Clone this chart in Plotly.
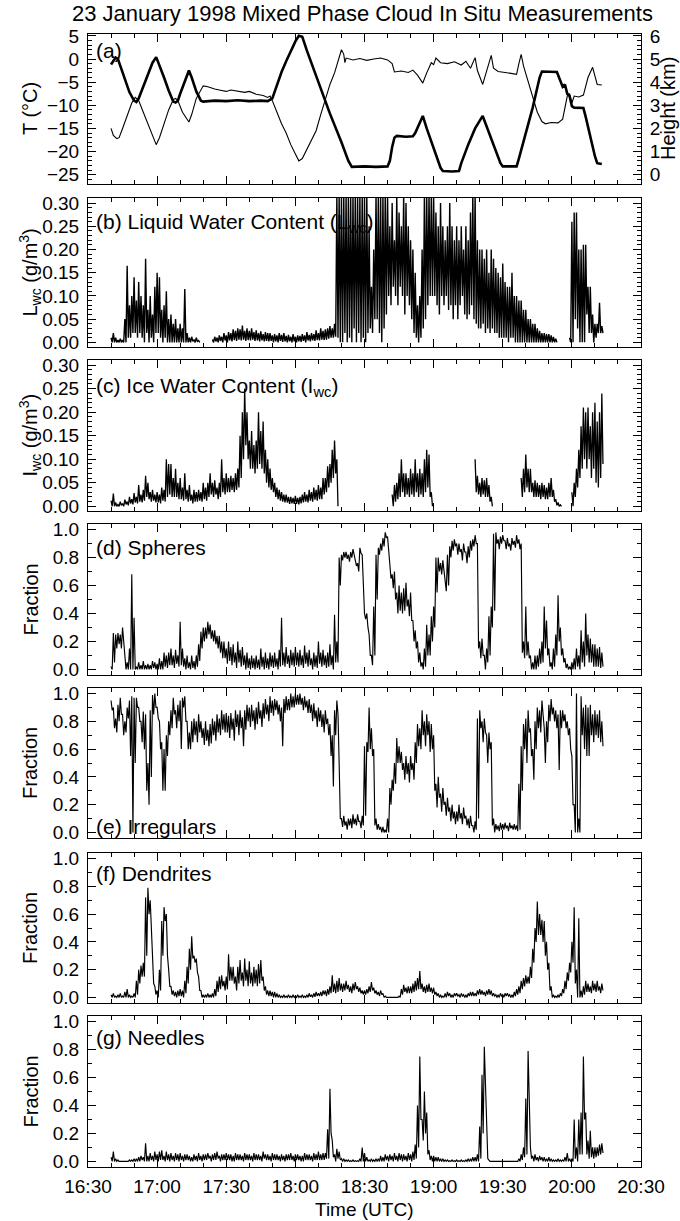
import plotly.graph_objects as go

TITLE = "23 January 1998 Mixed Phase Cloud In Situ Measurements"
X_TICK_MIN = [0, 30, 60, 90, 120, 150, 180, 210, 240]
X_TICK_TEXT = ["16:30", "17:00", "17:30", "18:00", "18:30", "19:00", "19:30", "20:00", "20:30"]
# one reading per minute (minutes after 16:30, 16:40 .. 20:13); for each minute the
# highest (HI) and lowest (LO) value that the dense trace reaches in that minute
SAMPLE_MIN = list(range(10, 224))

# (a) temperature (thick) breakpoints: minutes after 16:30, deg C
T_MIN = [10, 11, 12, 13, 14, 16, 18, 20, 21, 22, 24, 26, 28, 29.6, 31, 33, 35, 37, 38, 39,
         40, 42, 43.8, 45, 47, 49, 50, 55, 60, 65, 70, 75, 78, 80, 82, 84, 86, 88, 90, 91.5,
         93, 95, 100, 105, 110, 113, 114.5, 120, 125, 130, 131, 132, 133, 134, 138, 141, 142, 145.3, 147, 150,
         153, 154, 158, 161, 162, 165, 168, 171.3, 173, 176, 179, 180, 186, 187, 190, 193, 196, 197, 203.5, 205,
         206, 207, 208, 209, 210, 211, 215, 216, 218, 220, 221, 223]
T_C = [-1.2, -0.5, 0.3, 0.0, -1.5, -4.5, -7.2, -9.0, -9.3, -8.5, -5.8, -3.3, -0.8, 0.4, -1.3, -4.0, -6.8, -9.2, -9.4, -9.0,
       -7.5, -4.8, -2.5, -4.0, -7.0, -9.0, -9.2, -9.0, -9.1, -8.9, -9.1, -9.0, -9.1, -8.5, -5.5, -2.8, -0.5, 1.8, 3.8, 5.0,
       4.8, 1.8, -5.0, -11.8, -18.0, -22.0, -23.3, -23.2, -23.3, -23.2, -22.0, -19.0, -17.0, -16.6, -16.8, -16.7, -16.0, -12.3, -15.0, -19.5,
       -23.5, -24.2, -24.3, -24.2, -22.5, -18.5, -15.0, -12.3, -14.5, -18.5, -22.5, -23.2, -23.2, -21.5, -16.0, -10.5, -4.0, -2.7, -2.8, -4.5,
       -6.0, -5.5, -7.5, -8.0, -10.2, -10.5, -10.6, -12.5, -17.0, -21.0, -22.5, -22.7]

# (a) aircraft height (thin) breakpoints: minutes after 16:30, km
H_MIN = [10, 11, 12.5, 13.5, 15, 17, 19, 20.5, 22, 24, 26, 28, 29.6, 31, 33, 35, 37, 38, 39, 41,
         43.8, 45, 47, 49, 50, 52, 55, 58, 60, 62, 65, 68, 70, 73, 76, 78, 79, 80, 82, 84,
         86, 88, 90, 91.5, 93, 95, 97, 99, 101, 103, 105, 107, 109, 110, 111, 111.5, 112, 115, 118, 121,
         124, 127, 130, 132, 133, 136, 139, 141, 143, 145.3, 147, 149, 150, 151, 153, 156, 159, 162, 164, 166,
         168, 169, 171.3, 173, 175, 176, 178, 181, 184, 186, 187, 188, 189, 191, 193, 195, 197, 198.5, 201, 204,
         206, 207, 208, 209, 210, 211, 213, 215, 217, 219, 220, 221, 223]
H_KM = [2.0, 1.7, 1.56, 1.6, 2.0, 2.6, 3.1, 3.34, 3.2, 2.7, 2.2, 1.7, 1.3, 1.6, 2.2, 2.8, 3.24, 3.3, 3.2, 2.7,
        2.28, 2.6, 3.3, 3.7, 3.84, 3.8, 3.7, 3.64, 3.6, 3.66, 3.6, 3.56, 3.6, 3.48, 3.42, 3.34, 3.4, 3.2, 2.7, 2.2,
        1.8, 1.3, 0.9, 0.6, 0.7, 1.1, 1.44, 1.9, 2.6, 3.3, 3.9, 4.4, 5.0, 5.4, 5.2, 4.84, 5.04, 4.96, 5.02, 4.94,
        5.0, 5.04, 4.96, 4.8, 4.44, 4.48, 4.42, 4.52, 4.3, 3.96, 4.4, 4.84, 4.76, 5.04, 4.84, 4.8, 4.88, 4.74, 4.9, 4.6,
        5.06, 4.5, 3.9, 4.5, 5.16, 4.6, 4.46, 4.42, 4.38, 4.34, 4.8, 5.2, 4.7, 4.0, 3.3, 2.7, 2.3, 2.2, 2.26, 2.24,
        2.4, 2.9, 3.4, 3.5, 3.1, 3.4, 3.36, 3.44, 4.2, 4.64, 4.3, 3.9, 3.88]

# (b) liquid water content, g/m3
LWC_HI = [0.01, 0.02, 0.01, 0.005, 0.008, 0.005, 0.05, 0.165, 0.08, 0.1,
          0.14, 0.09, 0.13, 0.1, 0.08, 0.18, 0.07, 0.1, 0.06, 0.12,
          0.15, 0.14, 0.07, 0.08, 0.11, 0.05, 0.06, 0.04, 0.05, 0.03,
          0.04, 0.03, 0.115, 0.02, 0.01, 0.012, 0.006, 0.01, 0.004, None,
          None, None, None, None, 0.006, 0.012, 0.01, 0.015, 0.012, 0.02,
          0.015, 0.022, 0.02, 0.028, 0.025, 0.03, 0.028, 0.036, 0.025, 0.03,
          0.025, 0.03, 0.022, 0.026, 0.02, 0.024, 0.018, 0.022, 0.02, 0.02,
          0.015, 0.018, 0.015, 0.02, 0.016, 0.02, 0.014, 0.016, 0.012, 0.018,
          0.012, 0.015, 0.014, 0.018, 0.015, 0.022, 0.016, 0.02, 0.018, 0.026,
          0.02, 0.03, 0.025, 0.028, 0.03, 0.035, 0.03, 0.04, 0.32, 0.32,
          0.32, 0.32, 0.32, 0.32, 0.32, 0.32, 0.32, 0.32, 0.32, 0.32,
          0.32, 0.32, 0.25, 0.12, 0.2, 0.32, 0.32, 0.32, 0.32, 0.32,
          0.32, 0.25, 0.3, 0.22, 0.32, 0.28, 0.25, 0.32, 0.3, 0.25,
          0.22, 0.2, 0.15, 0.08, 0.1, 0.2, 0.32, 0.32, 0.32, 0.32,
          0.32, 0.28, 0.25, 0.3, 0.25, 0.22, 0.25, 0.3, 0.25, 0.22,
          0.25, 0.22, 0.25, 0.2, 0.25, 0.22, 0.28, 0.32, 0.32, 0.22,
          0.2, 0.2, 0.18, 0.2, 0.15, 0.2, 0.18, 0.16, 0.15, 0.14,
          0.17, 0.13, 0.12, 0.12, 0.15, 0.1, 0.1, 0.09, 0.09, 0.07,
          0.07, 0.05, 0.05, 0.04, 0.04, 0.03, 0.025, 0.02, 0.02, 0.018,
          0.018, 0.015, 0.012, 0.008, None, None, None, None, None, 0.01,
          0.26, 0.28, 0.28, 0.2, 0.2, 0.21, 0.21, 0.12, 0.12, 0.06,
          0.04, 0.04, 0.085, 0.035]
LWC_LO = [0.0, 0.0, 0.0, 0.0, 0.0, 0.0, 0.0, 0.01, 0.01, 0.02,
          0.02, 0.01, 0.02, 0.01, 0.0, 0.02, 0.0, 0.01, 0.0, 0.02,
          0.02, 0.01, 0.0, 0.01, 0.0, 0.0, 0.0, 0.0, 0.0, 0.0,
          0.0, 0.0, 0.0, 0.0, 0.0, 0.002, 0.0, 0.002, 0.0, None,
          None, None, None, None, 0.0, 0.002, 0.0, 0.003, 0.0, 0.004,
          0.0, 0.004, 0.002, 0.005, 0.003, 0.006, 0.004, 0.006, 0.003, 0.005,
          0.004, 0.006, 0.003, 0.004, 0.002, 0.004, 0.002, 0.003, 0.002, 0.003,
          0.0, 0.002, 0.0, 0.003, 0.001, 0.002, 0.0, 0.002, 0.0, 0.002,
          0.0, 0.002, 0.001, 0.003, 0.0, 0.004, 0.002, 0.004, 0.003, 0.005,
          0.004, 0.006, 0.005, 0.006, 0.008, 0.01, 0.01, 0.012, 0.01, 0.0,
          0.0, 0.02, 0.0, 0.01, 0.0, 0.03, 0.0, 0.02, 0.0, 0.01,
          0.0, 0.02, 0.03, 0.02, 0.05, 0.05, 0.02, 0.0, 0.03, 0.06,
          0.1, 0.08, 0.12, 0.1, 0.08, 0.12, 0.1, 0.06, 0.1, 0.08,
          0.05, 0.02, 0.01, 0.0, 0.01, 0.03, 0.05, 0.08, 0.1, 0.1,
          0.1, 0.08, 0.06, 0.1, 0.08, 0.1, 0.07, 0.08, 0.05, 0.08,
          0.05, 0.08, 0.1, 0.06, 0.05, 0.06, 0.08, 0.05, 0.04, 0.03,
          0.03, 0.04, 0.02, 0.03, 0.02, 0.03, 0.02, 0.02, 0.01, 0.01,
          0.01, 0.01, 0.0, 0.01, 0.01, 0.0, 0.0, 0.0, 0.0, 0.0,
          0.0, 0.0, 0.0, 0.0, 0.0, 0.0, 0.0, 0.0, 0.0, 0.0,
          0.0, 0.0, 0.0, 0.0, None, None, None, None, None, 0.0,
          0.0, 0.05, 0.03, 0.0, 0.0, 0.0, 0.06, 0.02, 0.02, 0.0,
          0.01, 0.02, 0.02, 0.02]

# (c) ice water content, g/m3
IWC_HI = [0.012, 0.027, 0.008, 0.004, 0.01, 0.006, 0.014, 0.01, 0.02, 0.015,
          0.028, 0.02, 0.045, 0.025, 0.035, 0.065, 0.05, 0.03, 0.035, 0.025,
          0.03, 0.025, 0.04, 0.035, 0.1, 0.09, 0.09, 0.06, 0.08, 0.05,
          0.06, 0.04, 0.07, 0.035, 0.045, 0.025, 0.035, 0.03, 0.035, 0.03,
          0.05, 0.04, 0.05, 0.07, 0.05, 0.055, 0.04, 0.05, 0.1, 0.06,
          0.07, 0.06, 0.065, 0.06, 0.07, 0.08, 0.15, 0.2, 0.25, 0.2,
          0.14, 0.16, 0.13, 0.14, 0.2, 0.16, 0.18, 0.12, 0.1, 0.08,
          0.06, 0.05, 0.04, 0.035, 0.03, 0.025, 0.025, 0.02, 0.02, 0.018,
          0.022, 0.018, 0.02, 0.025, 0.03, 0.025, 0.035, 0.03, 0.04, 0.035,
          0.045, 0.04, 0.06, 0.06, 0.085, 0.09, 0.12, 0.14, 0.1, None,
          None, None, None, None, None, None, None, None, None, None,
          None, None, None, None, None, None, None, None, None, None,
          None, None, 0.025, 0.045, 0.05, 0.07, 0.1, 0.07, 0.07, 0.06,
          0.08, 0.07, 0.1, 0.07, 0.08, 0.07, 0.1, 0.12, 0.11, 0.03,
          None, None, None, None, None, None, None, None, None, None,
          None, None, None, None, None, None, None, None, 0.1, 0.065,
          0.05, 0.06, 0.055, 0.06, 0.045, 0.02, None, None, None, None,
          None, None, None, None, None, None, None, None, 0.06, 0.08,
          0.11, 0.08, 0.08, 0.05, 0.055, 0.05, 0.045, 0.05, 0.045, 0.04,
          0.05, 0.06, 0.035, 0.015, 0.008, 0.003, None, None, None, None,
          0.03, 0.05, 0.08, 0.12, 0.17, 0.21, 0.2, 0.21, 0.17, 0.2,
          0.22, 0.18, 0.2, 0.24]
IWC_LO = [0.0, 0.0, 0.0, 0.0, 0.002, 0.0, 0.004, 0.002, 0.006, 0.004,
          0.008, 0.006, 0.01, 0.008, 0.012, 0.02, 0.015, 0.01, 0.012, 0.008,
          0.008, 0.006, 0.012, 0.01, 0.02, 0.025, 0.02, 0.02, 0.02, 0.015,
          0.015, 0.012, 0.015, 0.01, 0.012, 0.006, 0.01, 0.01, 0.012, 0.01,
          0.015, 0.012, 0.02, 0.025, 0.02, 0.025, 0.015, 0.02, 0.03, 0.025,
          0.03, 0.03, 0.035, 0.03, 0.035, 0.04, 0.06, 0.1, 0.13, 0.1,
          0.08, 0.08, 0.07, 0.08, 0.09, 0.08, 0.07, 0.05, 0.04, 0.035,
          0.03, 0.02, 0.015, 0.012, 0.01, 0.008, 0.008, 0.005, 0.006, 0.005,
          0.005, 0.004, 0.006, 0.008, 0.01, 0.008, 0.012, 0.01, 0.014, 0.012,
          0.015, 0.015, 0.025, 0.03, 0.04, 0.05, 0.06, 0.07, 0.0, None,
          None, None, None, None, None, None, None, None, None, None,
          None, None, None, None, None, None, None, None, None, None,
          None, None, 0.0, 0.01, 0.015, 0.02, 0.03, 0.02, 0.025, 0.02,
          0.025, 0.02, 0.03, 0.02, 0.025, 0.02, 0.03, 0.04, 0.02, 0.0,
          None, None, None, None, None, None, None, None, None, None,
          None, None, None, None, None, None, None, None, 0.03, 0.025,
          0.02, 0.025, 0.02, 0.02, 0.01, 0.0, None, None, None, None,
          None, None, None, None, None, None, None, None, 0.02, 0.03,
          0.04, 0.03, 0.03, 0.02, 0.02, 0.02, 0.015, 0.02, 0.015, 0.015,
          0.02, 0.02, 0.01, 0.002, 0.0, 0.0, None, None, None, None,
          0.0, 0.02, 0.04, 0.06, 0.08, 0.1, 0.08, 0.1, 0.06, 0.08,
          0.05, 0.04, 0.06, 0.09]

# (d) spheres fraction
SPH_HI = [0.02, 0.26, 0.25, 0.26, 0.25, 0.3, 0.05, 0.05, 0.15, 0.68,
          0.37, 0.02, 0.05, 0.03, 0.06, 0.03, 0.04, 0.03, 0.06, 0.05,
          0.04, 0.08, 0.06, 0.12, 0.1, 0.12, 0.15, 0.1, 0.14, 0.1,
          0.34, 0.15, 0.08, 0.1, 0.05, 0.1, 0.06, 0.1, 0.18, 0.27,
          0.3, 0.3, 0.34, 0.32, 0.28, 0.28, 0.24, 0.24, 0.2, 0.2,
          0.15, 0.2, 0.16, 0.18, 0.12, 0.2, 0.14, 0.16, 0.1, 0.12,
          0.08, 0.1, 0.08, 0.1, 0.07, 0.15, 0.09, 0.12, 0.08, 0.12,
          0.1, 0.12, 0.08, 0.14, 0.37, 0.12, 0.16, 0.1, 0.14, 0.12,
          0.16, 0.12, 0.14, 0.1, 0.17, 0.12, 0.14, 0.08, 0.12, 0.1,
          0.2, 0.12, 0.14, 0.1, 0.12, 0.18, 0.1, 0.39, 0.2, 0.8,
          0.82, 0.84, 0.84, 0.82, 0.84, 0.86, 0.8, 0.76, 0.87, 0.82,
          0.4, 0.4, 0.25, 0.1, 0.45, 0.82, 0.87, 0.9, 0.94, 0.98,
          0.95, 0.73, 0.68, 0.7, 0.55, 0.6, 0.55, 0.58, 0.62, 0.5,
          0.55, 0.35, 0.28, 0.2, 0.12, 0.05, 0.15, 0.32, 0.25, 0.38,
          0.45, 0.8, 0.8, 0.76, 0.78, 0.65, 0.82, 0.88, 0.92, 0.93,
          0.9, 0.9, 0.86, 0.9, 0.84, 0.88, 0.92, 0.93, 0.96, 0.9,
          0.2, 0.22, 0.1, 0.15, 0.38, 0.45, 0.97, 0.98, 0.93, 0.95,
          0.96, 0.92, 0.94, 0.9, 0.94, 0.92, 0.96, 0.93, 0.9, 0.2,
          0.45, 0.2, 0.1, 0.05, 0.1, 0.1, 0.15, 0.2, 0.45, 0.35,
          0.15, 0.05, 0.15, 0.25, 0.53, 0.3, 0.15, 0.08, 0.04, 0.02,
          0.05, 0.08, 0.15, 0.1, 0.28, 0.2, 0.4, 0.25, 0.22, 0.18,
          0.18, 0.15, 0.16, 0.12]
SPH_LO = [0.0, 0.05, 0.15, 0.18, 0.15, 0.2, 0.0, 0.0, 0.0, 0.0,
          0.0, 0.0, 0.0, 0.0, 0.0, 0.0, 0.0, 0.0, 0.01, 0.0,
          0.0, 0.0, 0.0, 0.02, 0.01, 0.03, 0.03, 0.01, 0.04, 0.02,
          0.03, 0.02, 0.0, 0.01, 0.0, 0.01, 0.0, 0.02, 0.06, 0.15,
          0.2, 0.22, 0.25, 0.22, 0.2, 0.18, 0.15, 0.12, 0.08, 0.08,
          0.04, 0.06, 0.03, 0.05, 0.01, 0.05, 0.02, 0.03, 0.0, 0.01,
          0.0, 0.01, 0.0, 0.01, 0.0, 0.02, 0.0, 0.01, 0.0, 0.02,
          0.01, 0.02, 0.0, 0.02, 0.03, 0.02, 0.04, 0.01, 0.03, 0.02,
          0.03, 0.02, 0.03, 0.01, 0.04, 0.02, 0.03, 0.0, 0.02, 0.01,
          0.04, 0.02, 0.03, 0.01, 0.02, 0.03, 0.0, 0.05, 0.05, 0.6,
          0.78, 0.8, 0.79, 0.77, 0.8, 0.82, 0.74, 0.7, 0.83, 0.6,
          0.36, 0.3, 0.1, 0.03, 0.1, 0.5, 0.82, 0.85, 0.88, 0.94,
          0.85, 0.65, 0.58, 0.5, 0.4, 0.42, 0.4, 0.42, 0.45, 0.38,
          0.35, 0.2, 0.15, 0.05, 0.02, 0.0, 0.02, 0.1, 0.1, 0.2,
          0.3, 0.55, 0.7, 0.68, 0.7, 0.56, 0.6, 0.8, 0.85, 0.88,
          0.82, 0.84, 0.78, 0.84, 0.76, 0.8, 0.85, 0.88, 0.9, 0.15,
          0.08, 0.1, 0.0, 0.05, 0.1, 0.3, 0.42, 0.9, 0.86, 0.9,
          0.92, 0.86, 0.88, 0.85, 0.89, 0.87, 0.9, 0.86, 0.12, 0.08,
          0.1, 0.08, 0.0, 0.0, 0.0, 0.02, 0.04, 0.05, 0.15, 0.1,
          0.02, 0.0, 0.02, 0.1, 0.2, 0.1, 0.05, 0.01, 0.0, 0.0,
          0.0, 0.0, 0.02, 0.0, 0.05, 0.02, 0.1, 0.05, 0.05, 0.02,
          0.02, 0.02, 0.01, 0.02]

# (e) irregulars fraction
IRR_HI = [0.95, 0.9, 0.82, 0.92, 0.97, 0.85, 0.8, 0.9, 0.95, 0.98,
          0.97, 0.97, 0.9, 0.8, 0.87, 0.85, 0.5, 0.88, 0.99, 1.0,
          0.9, 0.8, 0.65, 0.6, 0.7, 0.8, 0.88, 0.97, 0.88, 0.92,
          0.95, 0.97, 0.98, 0.8, 0.72, 0.8, 0.82, 0.8, 0.85, 0.8,
          0.75, 0.8, 0.74, 0.78, 0.82, 0.8, 0.85, 0.82, 0.88, 0.85,
          0.86, 0.84, 0.86, 0.82, 0.88, 0.85, 0.88, 0.83, 0.88, 0.92,
          0.9, 0.92, 0.88, 0.9, 0.94, 0.88, 0.93, 0.96, 0.92, 0.98,
          0.95, 0.96, 0.95, 0.92, 0.9, 0.96, 0.98, 0.96, 1.0, 0.98,
          1.0, 0.99, 1.0, 0.97, 0.98, 0.95, 0.96, 0.92, 0.93, 0.88,
          0.9, 0.88, 0.85, 0.88, 0.82, 0.78, 0.7, 0.88, 0.95, 0.5,
          0.1, 0.12, 0.08, 0.1, 0.1, 0.13, 0.1, 0.13, 0.08, 0.12,
          0.62, 0.65, 0.9, 0.75, 0.6, 0.1, 0.06, 0.04, 0.04, 0.02,
          0.1, 0.32, 0.38, 0.5, 0.68, 0.62, 0.58, 0.5, 0.55, 0.5,
          0.55, 0.5, 0.65, 0.78, 0.75, 0.88, 0.8, 0.85, 0.8, 0.78,
          0.7, 0.35, 0.4, 0.28, 0.32, 0.22, 0.25, 0.18, 0.2, 0.15,
          0.15, 0.2, 0.14, 0.18, 0.12, 0.1, 0.12, 0.05, 0.08, 0.82,
          0.88, 0.8, 0.82, 0.7, 0.72, 0.65, 0.1, 0.06, 0.05, 0.07,
          0.06, 0.07, 0.05, 0.07, 0.05, 0.06, 0.05, 0.35, 0.62, 0.78,
          0.82, 0.88, 0.75, 0.6, 0.8, 0.9, 0.88, 0.95, 0.75, 0.8,
          0.92, 0.96, 0.9, 0.88, 0.85, 0.88, 0.88, 0.85, 0.8, 0.75,
          0.55, 0.2, 1.0, 0.1, 0.98, 0.9, 0.92, 0.9, 0.92, 0.85,
          0.88, 0.85, 0.88, 0.8]
IRR_LO = [0.88, 0.75, 0.72, 0.8, 0.85, 0.7, 0.72, 0.82, 0.55, 0.0,
          0.5, 0.9, 0.8, 0.65, 0.6, 0.3, 0.2, 0.4, 0.85, 0.9,
          0.82, 0.6, 0.3, 0.3, 0.55, 0.7, 0.75, 0.85, 0.75, 0.8,
          0.6, 0.9, 0.8, 0.6, 0.6, 0.65, 0.7, 0.65, 0.72, 0.68,
          0.63, 0.66, 0.62, 0.64, 0.7, 0.66, 0.72, 0.7, 0.74, 0.72,
          0.72, 0.68, 0.74, 0.66, 0.76, 0.7, 0.75, 0.62, 0.74, 0.8,
          0.76, 0.8, 0.74, 0.78, 0.82, 0.76, 0.82, 0.85, 0.8, 0.86,
          0.84, 0.88, 0.85, 0.8, 0.62, 0.86, 0.88, 0.88, 0.9, 0.9,
          0.92, 0.92, 0.92, 0.88, 0.9, 0.86, 0.86, 0.8, 0.82, 0.76,
          0.8, 0.76, 0.72, 0.78, 0.7, 0.55, 0.33, 0.7, 0.85, 0.1,
          0.04, 0.05, 0.02, 0.05, 0.03, 0.06, 0.05, 0.08, 0.03, 0.05,
          0.12, 0.58, 0.6, 0.55, 0.05, 0.02, 0.02, 0.0, 0.0, 0.0,
          0.0, 0.2, 0.3, 0.35, 0.5, 0.5, 0.45, 0.38, 0.42, 0.36,
          0.45, 0.38, 0.5, 0.62, 0.6, 0.7, 0.62, 0.7, 0.58, 0.6,
          0.3, 0.18, 0.25, 0.15, 0.2, 0.12, 0.15, 0.08, 0.1, 0.06,
          0.08, 0.1, 0.06, 0.1, 0.05, 0.03, 0.05, 0.0, 0.02, 0.1,
          0.75, 0.65, 0.72, 0.5, 0.6, 0.05, 0.0, 0.02, 0.01, 0.02,
          0.02, 0.03, 0.01, 0.03, 0.02, 0.02, 0.01, 0.02, 0.3, 0.6,
          0.5, 0.72, 0.55, 0.38, 0.6, 0.75, 0.72, 0.82, 0.5, 0.65,
          0.8, 0.85, 0.8, 0.75, 0.45, 0.75, 0.8, 0.75, 0.7, 0.6,
          0.2, 0.0, 0.0, 0.0, 0.7, 0.6, 0.55, 0.55, 0.7, 0.65,
          0.7, 0.68, 0.65, 0.62]

# (f) dendrites fraction
DEN_HI = [0.02, 0.03, 0.01, 0.02, 0.03, 0.01, 0.04, 0.06, 0.02, 0.01,
          0.03, 0.12, 0.2, 0.23, 0.25, 0.72, 0.79, 0.7, 0.3, 0.08,
          0.05, 0.2, 0.55, 0.65, 0.6, 0.2, 0.08, 0.05, 0.04, 0.05,
          0.06, 0.05, 0.12, 0.22, 0.35, 0.44, 0.3, 0.28, 0.15, 0.05,
          0.02, 0.02, 0.03, 0.02, 0.03, 0.06, 0.12, 0.15, 0.16, 0.12,
          0.15, 0.31, 0.22, 0.22, 0.15, 0.22, 0.27, 0.18, 0.28, 0.2,
          0.26, 0.18, 0.22, 0.2, 0.24, 0.27, 0.15, 0.08, 0.05, 0.05,
          0.04, 0.04, 0.03, 0.02, 0.01, 0.02, 0.01, 0.02, 0.01, 0.02,
          0.01, 0.02, 0.01, 0.02, 0.01, 0.02, 0.03, 0.02, 0.03, 0.04,
          0.03, 0.04, 0.05, 0.05, 0.06, 0.08, 0.16, 0.1, 0.12, 0.14,
          0.1, 0.1, 0.12, 0.09, 0.08, 0.1, 0.11, 0.08, 0.07, 0.05,
          0.05, 0.06, 0.08, 0.11, 0.07, 0.05, 0.04, 0.05, 0.03, 0.01,
          0.0, 0.0, 0.0, 0.0, 0.005, 0.01, 0.06, 0.09, 0.07, 0.08,
          0.08, 0.1, 0.12, 0.14, 0.19, 0.1, 0.08, 0.09, 0.1, 0.07,
          0.07, 0.04, 0.03, 0.02, 0.01, 0.03, 0.04, 0.03, 0.02, 0.03,
          0.03, 0.02, 0.03, 0.02, 0.02, 0.03, 0.04, 0.04, 0.03, 0.05,
          0.06, 0.05, 0.04, 0.05, 0.06, 0.05, 0.03, 0.02, 0.02, 0.03,
          0.02, 0.03, 0.03, 0.02, 0.02, 0.04, 0.06, 0.08, 0.12, 0.14,
          0.16, 0.15, 0.22, 0.35, 0.5, 0.69, 0.6, 0.56, 0.55, 0.4,
          0.25, 0.08, 0.02, 0.01, 0.02, 0.03, 0.06, 0.12, 0.18, 0.25,
          0.4, 0.65, 0.2, 0.57, 0.05, 0.08, 0.12, 0.1, 0.08, 0.12,
          0.1, 0.12, 0.08, 0.1]
DEN_LO = [0.0, 0.0, 0.0, 0.0, 0.0, 0.0, 0.0, 0.0, 0.0, 0.0,
          0.0, 0.02, 0.1, 0.15, 0.15, 0.3, 0.6, 0.45, 0.1, 0.02,
          0.0, 0.05, 0.3, 0.55, 0.3, 0.08, 0.02, 0.01, 0.0, 0.01,
          0.01, 0.0, 0.03, 0.1, 0.2, 0.28, 0.25, 0.18, 0.05, 0.0,
          0.0, 0.0, 0.0, 0.0, 0.0, 0.01, 0.04, 0.06, 0.08, 0.05,
          0.06, 0.12, 0.12, 0.1, 0.05, 0.1, 0.12, 0.08, 0.12, 0.08,
          0.1, 0.08, 0.1, 0.08, 0.1, 0.12, 0.05, 0.02, 0.01, 0.01,
          0.0, 0.0, 0.0, 0.0, 0.0, 0.0, 0.0, 0.0, 0.0, 0.0,
          0.0, 0.0, 0.0, 0.0, 0.0, 0.0, 0.005, 0.0, 0.005, 0.01,
          0.01, 0.01, 0.02, 0.01, 0.02, 0.03, 0.04, 0.03, 0.04, 0.05,
          0.04, 0.05, 0.06, 0.04, 0.03, 0.05, 0.06, 0.04, 0.03, 0.02,
          0.02, 0.03, 0.04, 0.05, 0.03, 0.02, 0.01, 0.02, 0.0, 0.0,
          0.0, 0.0, 0.0, 0.0, 0.0, 0.0, 0.02, 0.04, 0.03, 0.03,
          0.03, 0.04, 0.05, 0.06, 0.06, 0.04, 0.03, 0.04, 0.04, 0.03,
          0.02, 0.01, 0.0, 0.0, 0.0, 0.0, 0.01, 0.0, 0.0, 0.01,
          0.01, 0.0, 0.01, 0.0, 0.0, 0.01, 0.01, 0.01, 0.01, 0.02,
          0.02, 0.02, 0.01, 0.02, 0.02, 0.01, 0.01, 0.0, 0.0, 0.01,
          0.0, 0.01, 0.01, 0.0, 0.0, 0.01, 0.02, 0.03, 0.06, 0.08,
          0.1, 0.1, 0.14, 0.25, 0.4, 0.45, 0.45, 0.4, 0.3, 0.2,
          0.05, 0.0, 0.0, 0.0, 0.0, 0.01, 0.03, 0.06, 0.12, 0.18,
          0.25, 0.1, 0.0, 0.0, 0.0, 0.02, 0.04, 0.04, 0.03, 0.05,
          0.04, 0.05, 0.03, 0.05]

# (g) needles fraction
NEE_HI = [0.03, 0.07, 0.02, 0.01, 0.0, 0.0, 0.0, 0.0, 0.01, 0.01,
          0.02, 0.02, 0.03, 0.04, 0.03, 0.13, 0.04, 0.06, 0.04, 0.07,
          0.05, 0.07, 0.08, 0.04, 0.07, 0.05, 0.06, 0.04, 0.06, 0.05,
          0.06, 0.04, 0.05, 0.05, 0.04, 0.03, 0.05, 0.04, 0.06, 0.04,
          0.05, 0.05, 0.06, 0.04, 0.05, 0.06, 0.07, 0.04, 0.05, 0.05,
          0.06, 0.05, 0.05, 0.04, 0.06, 0.05, 0.05, 0.04, 0.06, 0.05,
          0.05, 0.04, 0.06, 0.05, 0.05, 0.04, 0.07, 0.05, 0.05, 0.04,
          0.06, 0.05, 0.05, 0.04, 0.05, 0.04, 0.05, 0.05, 0.06, 0.04,
          0.05, 0.05, 0.04, 0.04, 0.06, 0.05, 0.05, 0.04, 0.06, 0.05,
          0.07, 0.05, 0.06, 0.06, 0.23, 0.52, 0.15, 0.05, 0.09, 0.07,
          0.02, 0.02, 0.01, 0.01, 0.005, 0.01, 0.005, 0.005, 0.02, 0.1,
          0.06, 0.03, 0.01, 0.02, 0.01, 0.02, 0.02, 0.04, 0.03, 0.05,
          0.04, 0.05, 0.04, 0.06, 0.04, 0.06, 0.05, 0.05, 0.04, 0.06,
          0.05, 0.07, 0.12, 0.4, 0.75, 0.3, 0.5, 0.35, 0.08, 0.04,
          0.04, 0.03, 0.03, 0.02, 0.02, 0.01, 0.01, 0.005, 0.01, 0.005,
          0.01, 0.005, 0.01, 0.005, 0.01, 0.02, 0.02, 0.03, 0.03, 0.05,
          0.25, 0.62, 0.82, 0.3, 0.01, 0.0, 0.0, 0.0, 0.0, 0.0,
          0.0, 0.0, 0.0, 0.0, 0.0, 0.0, 0.0, 0.02, 0.05, 0.1,
          0.45, 0.79, 0.1, 0.04, 0.05, 0.03, 0.04, 0.03, 0.03, 0.02,
          0.03, 0.02, 0.01, 0.01, 0.02, 0.01, 0.01, 0.03, 0.06, 0.02,
          0.02, 0.3, 0.1, 0.3, 0.35, 0.75, 0.35, 0.15, 0.22, 0.1,
          0.1, 0.1, 0.12, 0.13]
NEE_LO = [0.0, 0.0, 0.0, 0.0, 0.0, 0.0, 0.0, 0.0, 0.0, 0.0,
          0.0, 0.0, 0.0, 0.01, 0.0, 0.0, 0.0, 0.01, 0.0, 0.01,
          0.0, 0.01, 0.01, 0.0, 0.01, 0.0, 0.01, 0.0, 0.01, 0.0,
          0.01, 0.0, 0.01, 0.01, 0.0, 0.0, 0.01, 0.0, 0.01, 0.0,
          0.01, 0.01, 0.02, 0.0, 0.01, 0.01, 0.02, 0.0, 0.01, 0.01,
          0.01, 0.01, 0.0, 0.0, 0.01, 0.01, 0.01, 0.0, 0.01, 0.01,
          0.01, 0.0, 0.01, 0.01, 0.01, 0.0, 0.02, 0.01, 0.01, 0.0,
          0.01, 0.01, 0.01, 0.0, 0.01, 0.0, 0.01, 0.01, 0.01, 0.0,
          0.01, 0.01, 0.0, 0.0, 0.01, 0.01, 0.01, 0.0, 0.01, 0.01,
          0.01, 0.01, 0.01, 0.02, 0.02, 0.2, 0.03, 0.0, 0.02, 0.01,
          0.0, 0.0, 0.0, 0.0, 0.0, 0.0, 0.0, 0.0, 0.0, 0.0,
          0.0, 0.0, 0.0, 0.0, 0.0, 0.0, 0.0, 0.0, 0.0, 0.01,
          0.0, 0.01, 0.0, 0.01, 0.0, 0.01, 0.0, 0.01, 0.0, 0.01,
          0.0, 0.01, 0.02, 0.1, 0.3, 0.15, 0.2, 0.05, 0.01, 0.0,
          0.0, 0.0, 0.0, 0.0, 0.0, 0.0, 0.0, 0.0, 0.0, 0.0,
          0.0, 0.0, 0.0, 0.0, 0.0, 0.0, 0.0, 0.0, 0.0, 0.0,
          0.02, 0.2, 0.55, 0.02, 0.0, 0.0, 0.0, 0.0, 0.0, 0.0,
          0.0, 0.0, 0.0, 0.0, 0.0, 0.0, 0.0, 0.0, 0.01, 0.03,
          0.05, 0.3, 0.02, 0.0, 0.01, 0.0, 0.01, 0.0, 0.0, 0.0,
          0.0, 0.0, 0.0, 0.0, 0.0, 0.0, 0.0, 0.0, 0.0, 0.0,
          0.0, 0.02, 0.0, 0.05, 0.05, 0.3, 0.05, 0.02, 0.03, 0.02,
          0.03, 0.04, 0.05, 0.06]

PANEL_LABELS = ["(a)", "(b) Liquid Water Content (L<sub>wc</sub>)", "(c) Ice Water Content (I<sub>wc</sub>)",
                "(d) Spheres", "(e) Irregulars", "(f) Dendrites", "(g) Needles"]
Y_TITLES = ["T (°C)", "L<sub>wc</sub> (g/m<sup>3</sup>)", "I<sub>wc</sub> (g/m<sup>3</sup>)",
            "Fraction", "Fraction", "Fraction", "Fraction"]
RIGHT_TITLE = "Height (km)"
X_TITLE = "Time (UTC)"

# ---------------- layout geometry (pixels) ----------------
W, H = 680, 1221
ML, MR, MT, MB = 88, 39, 34, 54
TOPS = [34, 198, 360, 524, 688, 853, 1016]
BOTS = [184, 347, 511, 675, 838, 1003, 1167]
PH = H - MT - MB
PW = W - ML - MR


def py(px):
    return (H - MB - px) / PH


def pxx(px):
    return (px - ML) / PW


def envelope(times, hi, lo):
    """Walk each minute from its highest to its lowest reading (dense-trace look)."""
    xs, ys = [], []
    n = min(len(times), len(hi), len(lo))
    for k in range(n):
        xs.append(times[k])
        ys.append(hi[k])
        xs.append(times[k] + 0.5)
        ys.append(lo[k])
    return xs, ys


FONT = "Liberation Sans, Arial, Helvetica, sans-serif"
BLACK = "#000000"

fig = go.Figure()

pairs = [None, (LWC_HI, LWC_LO), (IWC_HI, IWC_LO), (SPH_HI, SPH_LO), (IRR_HI, IRR_LO),
         (DEN_HI, DEN_LO), (NEE_HI, NEE_LO)]
widths = [None, 1.4, 1.3, 1.15, 1.15, 1.15, 1.15]
for i in range(1, 7):
    hi, lo = pairs[i]
    xs, ys = envelope(SAMPLE_MIN, hi, lo)
    fig.add_trace(go.Scatter(x=xs, y=ys, mode="lines", line=dict(color=BLACK, width=widths[i]),
                             xaxis=f"x{i+1}", yaxis=f"y{i+1}", showlegend=False,
                             connectgaps=False))

fig.add_trace(go.Scatter(x=H_MIN, y=H_KM, mode="lines", line=dict(color=BLACK, width=1.1),
                         xaxis="x", yaxis="y8", showlegend=False))
fig.add_trace(go.Scatter(x=T_MIN, y=T_C, mode="lines", line=dict(color=BLACK, width=2.6),
                         xaxis="x", yaxis="y", showlegend=False))

minor_x = [m for m in range(0, 241, 10) if m % 30 != 0]
tickfont = dict(family=FONT, size=19, color=BLACK)

layout = dict(width=W, height=H, margin=dict(l=ML, r=MR, t=MT, b=MB, pad=0),
              paper_bgcolor="white", plot_bgcolor="white", showlegend=False,
              font=dict(family=FONT, color=BLACK, size=19))

for i in range(1, 8):
    key = "xaxis" if i == 1 else f"xaxis{i}"
    layout[key] = dict(domain=[0, 1], anchor="y" if i == 1 else f"y{i}", range=[0, 240],
                       tickmode="array", tickvals=X_TICK_MIN, ticktext=X_TICK_TEXT,
                       showticklabels=(i == 7), ticks="inside", ticklen=8, tickwidth=1,
                       tickcolor=BLACK, mirror="ticks", showline=True, linecolor=BLACK,
                       linewidth=1, showgrid=False, zeroline=False, tickfont=tickfont,
                       ticklabelstandoff=2,
                       minor=dict(tickmode="array", tickvals=minor_x, ticks="inside",
                                  ticklen=4, tickcolor=BLACK, showgrid=False))
    ykey = "yaxis" if i == 1 else f"yaxis{i}"
    yd = dict(domain=[py(BOTS[i - 1]), py(TOPS[i - 1])], anchor="x" if i == 1 else f"x{i}",
              ticks="inside", ticklen=8, tickwidth=1, tickcolor=BLACK, showline=True,
              linecolor=BLACK, linewidth=1, showgrid=False, zeroline=False, tickfont=tickfont,
              mirror="ticks", ticklabelstandoff=4)
    if i == 1:
        yd.update(range=[-27, 5.4], tickmode="linear", tick0=0, dtick=5, mirror=False,
                  minor=dict(dtick=1, ticks="inside", ticklen=4, tickcolor=BLACK))
    elif i in (2, 3):
        yd.update(range=[-0.01, 0.311], tickmode="linear", tick0=0, dtick=0.05, tickformat=".2f",
                  minor=dict(dtick=0.01, ticks="inside", ticklen=4, tickcolor=BLACK))
    else:
        yd.update(range=[-0.04, 1.04], tickmode="linear", tick0=0, dtick=0.2, tickformat=".1f",
                  minor=dict(dtick=0.1, ticks="inside", ticklen=4, tickcolor=BLACK))
    layout[ykey] = yd

layout["yaxis8"] = dict(overlaying="y", side="right", anchor="x", range=[-0.4, 6.08],
                        tickmode="linear", tick0=0, dtick=1, ticks="inside", ticklen=8,
                        tickcolor=BLACK, showline=True, linecolor=BLACK, linewidth=1,
                        showgrid=False, zeroline=False, tickfont=tickfont, ticklabelstandoff=4,
                        minor=dict(dtick=0.2, ticks="inside", ticklen=4, tickcolor=BLACK))

ann = []
ann.append(dict(text=TITLE, x=pxx(362), y=py(14), xref="paper", yref="paper",
                xanchor="center", yanchor="middle", showarrow=False,
                font=dict(family=FONT, size=22, color=BLACK)))
label_y = [50, 223, 387, 547, 826, 873, 1037]
for i in range(7):
    ann.append(dict(text=PANEL_LABELS[i], x=pxx(94), y=py(label_y[i]), xref="paper", yref="paper",
                    xanchor="left", yanchor="middle", showarrow=False,
                    font=dict(family=FONT, size=21, color=BLACK)))
    ann.append(dict(text=Y_TITLES[i], x=pxx(30), y=py((TOPS[i] + BOTS[i]) / 2), xref="paper",
                    yref="paper", xanchor="center", yanchor="middle", textangle=-90,
                    showarrow=False, font=dict(family=FONT, size=20, color=BLACK)))
ann.append(dict(text=RIGHT_TITLE, x=pxx(668), y=py((TOPS[0] + BOTS[0]) / 2), xref="paper",
                yref="paper", xanchor="center", yanchor="middle", textangle=-90,
                showarrow=False, font=dict(family=FONT, size=20, color=BLACK)))
ann.append(dict(text=X_TITLE, x=pxx(364), y=py(1209), xref="paper", yref="paper",
                xanchor="center", yanchor="middle", showarrow=False,
                font=dict(family=FONT, size=19, color=BLACK)))
layout["annotations"] = ann

fig.update_layout(**layout)
fig.write_html("out.html")
